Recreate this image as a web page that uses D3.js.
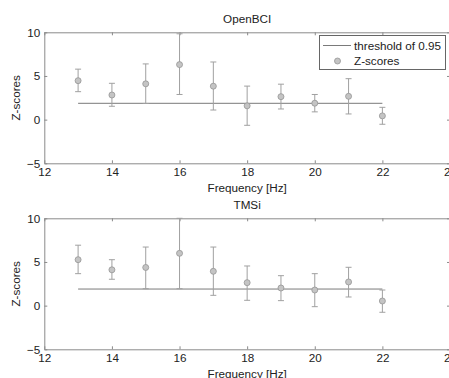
<!DOCTYPE html>
<html>
<head>
<meta charset="utf-8">
<script src="https://cdn.jsdelivr.net/npm/d3@7"></script>
<style>
  body { margin: 0; background: #fff; }
  svg { display: block; font-family: "Liberation Sans", Arial, sans-serif; }
</style>
</head>
<body>
<div id="chart"></div>
<script>
// frequencies (Hz)
var freqs = [13, 14, 15, 16, 17, 18, 19, 20, 21, 22];
var xTicks = [12, 14, 16, 18, 20, 22, 24];
var yTicks = [-5, 0, 5, 10];

// OpenBCI z-scores with error bounds
var openbciZ  = [4.46, 2.82, 4.1, 6.3, 3.83, 1.58, 2.63, 1.88, 2.67, 0.43];
var openbciHi = [5.78, 4.16, 6.38, 9.83, 6.6, 3.84, 4.06, 2.88, 4.69, 1.41];
var openbciLo = [3.2, 1.53, 1.85, 2.88, 1.1, -0.65, 1.22, 0.89, 0.65, -0.53];
var openbciThr = 1.87;

// TMSi z-scores with error bounds
var tmsiZ  = [5.26, 4.1, 4.37, 5.99, 3.93, 2.63, 2.02, 1.79, 2.71, 0.53];
var tmsiHi = [6.92, 5.26, 6.71, 10, 6.71, 4.54, 3.43, 3.66, 4.39, 1.79];
var tmsiLo = [3.66, 3.02, 1.94, 1.94, 1.18, 0.61, 0.57, -0.12, 0.99, -0.76];
var tmsiThr = 1.9;

var W = 449, H = 378;
var svg = d3.select("#chart").append("svg")
  .attr("width", W).attr("height", H);

var axisColor = "#8a8a8a", textColor = "#222";
var fs = 11.7;

var x = d3.scaleLinear().domain([12, 24]).range([44.3, 450]);

function panel(title, z, hi, lo, thr, top, bottom, legend) {
  var y = d3.scaleLinear().domain([-5, 10]).range([bottom, top]);
  var g = svg.append("g");

  // box axes, ticks pointing inward
  g.append("g").attr("transform", "translate(0," + bottom + ")")
    .call(d3.axisBottom(x).tickValues(xTicks).tickSize(-3).tickSizeOuter(0).tickPadding(4));
  g.append("g").attr("transform", "translate(0," + top + ")")
    .call(d3.axisTop(x).tickValues(xTicks).tickSize(-3).tickSizeOuter(0).tickFormat(""));
  g.append("g").attr("transform", "translate(" + x(12) + ",0)")
    .call(d3.axisLeft(y).tickValues(yTicks).tickSize(-3).tickSizeOuter(0).tickPadding(4));
  g.append("g").attr("transform", "translate(" + x(24) + ",0)")
    .call(d3.axisRight(y).tickValues(yTicks).tickSize(-3).tickSizeOuter(0).tickFormat(""));

  g.selectAll(".domain, .tick line").attr("stroke", axisColor);
  g.selectAll(".tick text").attr("fill", textColor).attr("font-size", fs)
    .attr("font-family", "Liberation Sans, Arial, sans-serif");

  // title and labels
  g.append("text").attr("x", (x(12) + x(24)) / 2).attr("y", top - 9)
    .attr("text-anchor", "middle").attr("font-size", fs).attr("fill", textColor).text(title);
  g.append("text").attr("x", (x(12) + x(24)) / 2).attr("y", bottom + 29)
    .attr("text-anchor", "middle").attr("font-size", fs).attr("fill", textColor).text("Frequency [Hz]");
  g.append("text")
    .attr("transform", "translate(20," + ((top + bottom) / 2) + ") rotate(-90)")
    .attr("text-anchor", "middle").attr("font-size", fs).attr("fill", textColor).text("Z-scores");

  // threshold line
  g.append("line")
    .attr("x1", x(freqs[0])).attr("x2", x(freqs[freqs.length - 1]))
    .attr("y1", y(thr)).attr("y2", y(thr))
    .attr("stroke", "#7a7a7a").attr("stroke-width", 1);

  var data = freqs.map(function (f, i) { return { f: f, z: z[i], hi: hi[i], lo: lo[i] }; });

  // error bars
  var eb = g.append("g").attr("stroke", "#a0a0a0").attr("stroke-width", 1);
  eb.selectAll(".v").data(data).enter().append("line")
    .attr("x1", d => x(d.f)).attr("x2", d => x(d.f))
    .attr("y1", d => y(d.hi)).attr("y2", d => y(d.lo));
  eb.selectAll(".t").data(data).enter().append("line")
    .attr("x1", d => x(d.f) - 3).attr("x2", d => x(d.f) + 3)
    .attr("y1", d => y(d.hi)).attr("y2", d => y(d.hi));
  eb.selectAll(".b").data(data).enter().append("line")
    .attr("x1", d => x(d.f) - 3).attr("x2", d => x(d.f) + 3)
    .attr("y1", d => y(d.lo)).attr("y2", d => y(d.lo));

  // markers
  g.selectAll("circle").data(data).enter().append("circle")
    .attr("cx", d => x(d.f)).attr("cy", d => y(d.z)).attr("r", 3)
    .attr("fill", "#c4c4c4").attr("stroke", "#959595").attr("stroke-width", 0.8);

  if (legend) {
    var lg = g.append("g");
    lg.append("rect").attr("x", 319.5).attr("y", 35.5).attr("width", 126).attr("height", 34)
      .attr("fill", "#fff").attr("stroke", "#666");
    lg.append("line").attr("x1", 323).attr("x2", 351).attr("y1", 45.5).attr("y2", 45.5)
      .attr("stroke", "#7a7a7a");
    lg.append("text").attr("x", 354).attr("y", 49.8).attr("font-size", fs)
      .attr("fill", textColor).text("threshold of 0.95");
    lg.append("circle").attr("cx", 337.5).attr("cy", 61).attr("r", 3)
      .attr("fill", "#c4c4c4").attr("stroke", "#959595").attr("stroke-width", 0.8);
    lg.append("text").attr("x", 354).attr("y", 65.3).attr("font-size", fs)
      .attr("fill", textColor).text("Z-scores");
  }
}

panel("OpenBCI", openbciZ, openbciHi, openbciLo, openbciThr, 32.3, 163.3, true);
panel("TMSi", tmsiZ, tmsiHi, tmsiLo, tmsiThr, 218.3, 349.3, false);
</script>
</body>
</html>
